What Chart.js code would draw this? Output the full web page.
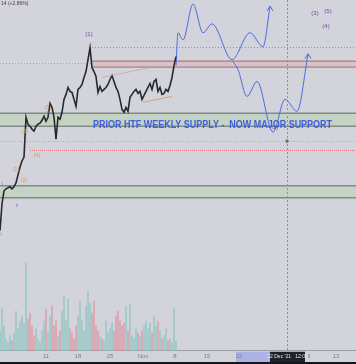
<!DOCTYPE html>
<html>
<head>
<meta charset="utf-8">
<script src="https://cdn.jsdelivr.net/npm/chart.js@4.4.0/dist/chart.umd.min.js"></script>
<style>
html,body{margin:0;padding:0;background:#d2d3db;overflow:hidden;}
</style>
</head>
<body>
<canvas id="c" width="356" height="364"></canvas>
<script>
// price levels, one every 2 bars
const priceLevels = [121,148,161,163,164,165,163,165,169,177,185,191,195,235,228,226,223,221,226,228,
  229,232,236,231,235,249,245,235,213,235,233,240,253,258,265,261,260,253,246,263,
  265,268,275,281,293,305,285,281,276,260,266,261,263,265,268,273,277,271,265,261,
  253,243,240,245,241,255,258,261,263,259,261,253,257,261,265,269,263,271,273,261,
  265,258,259,263,261,267,275,287,296]
const volumes = [20,43,25,12,8,15,10,18,40,22,30,35,28,88,32,38,25,15,22,12,
  8,20,30,42,18,35,45,25,30,15,20,40,55,30,52,22,18,12,25,35,
  50,30,20,45,60,48,38,50,25,20,15,12,10,30,18,22,28,20,35,40,
  30,25,28,45,20,46,15,12,22,18,15,20,25,30,22,28,18,35,25,30,
  20,12,15,22,10,12,8,43,10]
const barIndex = priceLevels.map((_, i) => i * 2)

// projected paths
const projUpX = [176,178,183,193,203,212,232,250,263,270]
const projUpY = [287,320,313,349,320,329,293,320,306,346]
const projDownX = [233,238,247,257,273,285,297,308]
const projDownY = [291,283,256,271,220,253,241,298]

// levels
const supplyBox = [286, 292]      // pink box
const supportBox1 = [226, 239]    // weekly supply -> support
const supportBox2 = [154, 166]
const blueDotLevel = 306
const pinkDotLevel = 290
const grayDotLevel = 211
const redDotLevel = 202
const cursorBar = 287

const tickPos = [46, 78, 110, 143, 175, 207, 239, 309, 336]
const tickText = ['11', '18', '25', 'Nov', '8', '15', '22', '6', '13']

const pts = (xs, ys) => xs.map((x, i) => ({x: x, y: ys[i]}))

const overlay = {
  id: 'overlay',
  beforeDraw(chart) {
    const ctx = chart.ctx, xs = chart.scales.x, ys = chart.scales.y
    const a = chart.chartArea
    const px = v => xs.getPixelForValue(v)
    const py = v => ys.getPixelForValue(v)
    ctx.save()
    ctx.fillStyle = '#d2d3db'
    ctx.fillRect(0, 0, chart.width, chart.height)

    // pink supply box
    ctx.fillStyle = 'rgba(222,190,196,0.9)'
    ctx.fillRect(px(92), py(supplyBox[1]), a.right - px(92), py(supplyBox[0]) - py(supplyBox[1]))
    ctx.strokeStyle = '#8f7477'
    ctx.lineWidth = 1
    ctx.beginPath()
    ctx.moveTo(px(92), py(supplyBox[1]) + 0.5); ctx.lineTo(a.right, py(supplyBox[1]) + 0.5)
    ctx.moveTo(px(92), py(supplyBox[0]) + 0.5); ctx.lineTo(a.right, py(supplyBox[0]) + 0.5)
    ctx.stroke()

    // green zones
    ;[supportBox1, supportBox2].forEach(b => {
      ctx.fillStyle = '#c4d3c4'
      ctx.fillRect(a.left, py(b[1]), a.right - a.left, py(b[0]) - py(b[1]))
      ctx.strokeStyle = '#828a88'
      ctx.lineWidth = 1.5
      ctx.beginPath()
      ctx.moveTo(a.left, py(b[1])); ctx.lineTo(a.right, py(b[1]))
      ctx.moveTo(a.left, py(b[0])); ctx.lineTo(a.right, py(b[0]))
      ctx.stroke()
    })

    // dotted levels
    const dotted = (lvl, x0, col, dash) => {
      ctx.strokeStyle = col
      ctx.lineWidth = 1
      ctx.setLineDash(dash)
      ctx.beginPath()
      ctx.moveTo(px(x0), Math.round(py(lvl)) + 0.5)
      ctx.lineTo(a.right, Math.round(py(lvl)) + 0.5)
      ctx.stroke()
    }
    ctx.save()
    ctx.beginPath(); ctx.rect(0, 0, px(92), chart.height); ctx.clip()
    dotted(pinkDotLevel, 0, '#b79ea4', [1, 2])
    ctx.restore()
    dotted(blueDotLevel, 92, '#7c8de0', [1, 2])
    dotted(grayDotLevel, 0, '#c4a2a8', [1, 2])
    dotted(redDotLevel, 30, '#d9737c', [1, 1])

    // vertical cursor line
    ctx.strokeStyle = '#8e9098'
    ctx.setLineDash([2, 2])
    ctx.beginPath()
    ctx.moveTo(px(cursorBar) + 0.5, 0)
    ctx.lineTo(px(cursorBar) + 0.5, a.bottom)
    ctx.stroke()
    ctx.setLineDash([])

    // axis highlight
    ctx.fillStyle = '#aab3e4'
    ctx.fillRect(px(236), a.bottom + 1, px(305) - px(236), chart.height - a.bottom - 3)
    ctx.restore()
  },
  afterDatasetsDraw(chart) {
    const ctx = chart.ctx, xs = chart.scales.x, ys = chart.scales.y
    const px = v => xs.getPixelForValue(v)
    const py = v => ys.getPixelForValue(v)
    ctx.save()

    // wedge lines
    ctx.strokeStyle = '#e0a070'
    ctx.lineWidth = 1
    ctx.beginPath()
    ctx.moveTo(px(143), py(250)); ctx.lineTo(px(172), py(256))
    ctx.stroke()
    ctx.strokeStyle = 'rgba(214,150,140,0.6)'
    ctx.beginPath()
    ctx.moveTo(px(102), py(275)); ctx.lineTo(px(150), py(285))
    ctx.stroke()

    // arrow heads on projections
    ctx.strokeStyle = '#4b6be0'
    ctx.lineWidth = 1
    ;[[projUpX, projUpY], [projDownX, projDownY]].forEach(p => {
      const n = p[0].length - 1
      const x = px(p[0][n]), y = py(p[1][n])
      ctx.beginPath()
      ctx.moveTo(x - 3, y + 4); ctx.lineTo(x, y - 1); ctx.lineTo(x + 3, y + 4)
      ctx.stroke()
    })

    // crosshair mark
    ctx.strokeStyle = '#555'
    ctx.beginPath()
    ctx.moveTo(px(cursorBar) - 2, py(grayDotLevel)); ctx.lineTo(px(cursorBar) + 2, py(grayDotLevel))
    ctx.moveTo(px(cursorBar), py(grayDotLevel) - 2); ctx.lineTo(px(cursorBar), py(grayDotLevel) + 2)
    ctx.stroke()

    // big caption
    const caption = 'PRIOR HTF WEEKLY SUPPLY -  NOW MAJOR SUPPORT'
    ctx.font = 'bold 10px "Liberation Sans", Arial, sans-serif'
    const w = ctx.measureText(caption).width
    ctx.fillStyle = '#3d5fe0'
    ctx.textBaseline = 'alphabetic'
    ctx.translate(px(93), 128)
    ctx.scale(239 / w, 1)
    ctx.fillText(caption, 0, 0)
    ctx.setTransform(1, 0, 0, 1, 0, 0)

    // wave labels
    const labels = [
      ['(1)', 89, 318, '#6a4f98', 6],
      ['(3)', 315, 340, '#6a4f98', 6],
      ['(5)', 328, 342, '#6a4f98', 6],
      ['(4)', 326, 326, '#6a4f98', 6],
      ['(2)', 275, 225, '#6a4f98', 5],
      ['(5)', 48, 245, '#d99a55', 5],
      ['(3)', 25, 221, '#d99a55', 5],
      ['(4)', 37, 196, '#d99a55', 5],
      ['(1)', 16, 182, '#d99a55', 5],
      ['(2)', 24, 171, '#d99a55', 5],
      ['ii', 48, 240, '#6a7fe0', 5],
      ['i', 2, 168, '#6a7fe0', 5],
      ['ii', 17, 146, '#6a7fe0', 5],
      ['i', 1, 117, '#6a7fe0', 5]
    ]
    ctx.textAlign = 'center'
    ctx.textBaseline = 'middle'
    labels.forEach(l => {
      ctx.font = l[4] + 'px "Liberation Sans", Arial, sans-serif'
      ctx.fillStyle = l[3]
      ctx.fillText(l[0], px(l[1]), py(l[2]))
    })

    // header value
    ctx.textAlign = 'left'
    ctx.font = '5px "Liberation Sans", Arial, sans-serif'
    ctx.fillStyle = '#444'
    ctx.fillText('14 (+2.86%)', 1, 4)
    ctx.restore()
  },
  afterDraw(chart) {
    const ctx = chart.ctx, xs = chart.scales.x
    const a = chart.chartArea
    const px = v => xs.getPixelForValue(v)
    ctx.save()
    ctx.fillStyle = '#1f2129'
    ctx.fillRect(px(270), a.bottom + 1, px(305) - px(270), chart.height - a.bottom - 3)
    ctx.fillStyle = '#e8e8ee'
    ctx.font = '5px "Liberation Sans", Arial, sans-serif'
    ctx.textAlign = 'center'
    ctx.textBaseline = 'middle'
    ctx.fillText("22 Dec '21   12:00", px(287.5), (a.bottom + chart.height - 2) / 2)
    ctx.fillStyle = '#15161b'
    ctx.fillRect(0, chart.height - 2, chart.width, 2)
    ctx.restore()
  }
}

new Chart(document.getElementById('c'), {
  type: 'line',
  data: {
    datasets: [
      {
        label: 'price',
        data: pts(barIndex, priceLevels),
        borderColor: '#262930',
        borderWidth: 1.6,
        pointRadius: 0,
        tension: 0,
        order: 1
      },
      {
        label: 'projection up',
        data: pts(projUpX, projUpY),
        borderColor: '#4b6be0',
        borderWidth: 1,
        pointRadius: 0,
        tension: 0.4,
        cubicInterpolationMode: 'monotone',
        order: 2
      },
      {
        label: 'projection down',
        data: pts(projDownX, projDownY),
        borderColor: '#4b6be0',
        borderWidth: 1,
        pointRadius: 0,
        tension: 0.4,
        cubicInterpolationMode: 'monotone',
        order: 3
      },
      {
        type: 'bar',
        label: 'volume',
        data: pts(barIndex, volumes),
        yAxisID: 'yv',
        barThickness: 1.2,
        backgroundColor: priceLevels.map((p, i) => (i === 0 || p >= priceLevels[i - 1]) ? 'rgba(130,196,188,0.6)' : 'rgba(222,140,154,0.6)'),
        order: 4
      }
    ]
  },
  options: {
    responsive: false,
    animation: false,
    layout: {padding: {left: 0, right: 0, top: 0, bottom: 2}},
    plugins: {legend: {display: false}, tooltip: {enabled: false}},
    scales: {
      x: {
        type: 'linear',
        min: 0,
        max: 356,
        offset: false,
        grid: {display: false, drawTicks: false, offset: false},
        border: {color: '#9c9ea8'},
        ticks: {
          autoSkip: false,
          maxRotation: 0,
          padding: 2,
          color: '#7d7f88',
          font: {size: 6, family: 'Liberation Sans'},
          callback: v => tickText[tickPos.indexOf(v)] || ''
        },
        afterBuildTicks: axis => { axis.ticks = tickPos.map(v => ({value: v})) }
      },
      y: {min: 0, max: 353, display: false},
      yv: {min: 0, max: 353, display: false}
    }
  },
  plugins: [overlay]
})
</script>
</body>
</html>
